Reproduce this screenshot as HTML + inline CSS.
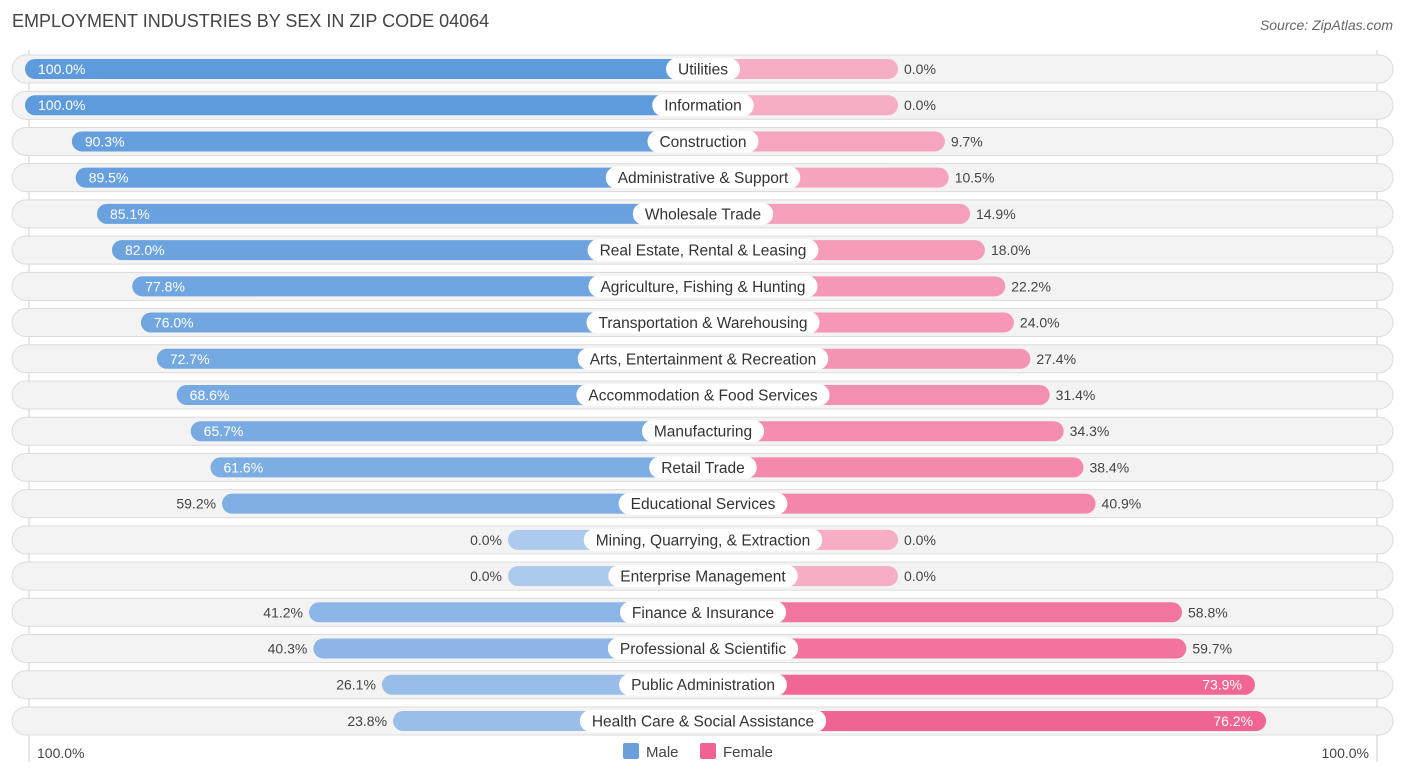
<!DOCTYPE html>
<html><head><meta charset="utf-8"><style>
body{margin:0;background:#fff;font-family:"Liberation Sans",Arial,sans-serif;}
svg{display:block}
</style></head><body>
<svg id="c" width="1406" height="776">
<text x="12" y="27" font-size="18" fill="#444">EMPLOYMENT INDUSTRIES BY SEX IN ZIP CODE 04064</text>
<text x="1393" y="30" font-size="14" fill="#666" font-style="italic" text-anchor="end">Source: ZipAtlas.com</text>
<line x1="29" y1="50" x2="29" y2="762" stroke="#ccc"/>
<line x1="1377" y1="50" x2="1377" y2="762" stroke="#ccc"/>
<g id="rows"></g>
<text x="37" y="758" font-size="14" fill="#444">100.0%</text>
<text x="1369" y="758" font-size="14" fill="#444" text-anchor="end">100.0%</text>
<rect x="623" y="743" width="16" height="16" rx="2" fill="#6a9fdc"/>
<text x="646" y="757" font-size="15" fill="#444">Male</text>
<rect x="700" y="743" width="16" height="16" rx="2" fill="#f06292"/>
<text x="723" y="757" font-size="15" fill="#444">Female</text>
</svg>
<script>
const categories=["Utilities","Information","Construction","Administrative & Support","Wholesale Trade","Real Estate, Rental & Leasing","Agriculture, Fishing & Hunting","Transportation & Warehousing","Arts, Entertainment & Recreation","Accommodation & Food Services","Manufacturing","Retail Trade","Educational Services","Mining, Quarrying, & Extraction","Enterprise Management","Finance & Insurance","Professional & Scientific","Public Administration","Health Care & Social Assistance"];
const maleValues=[100,100,90.3,89.5,85.1,82.0,77.8,76.0,72.7,68.6,65.7,61.6,59.2,0,0,41.2,40.3,26.1,23.8];
const femaleValues=[0,0,9.7,10.5,14.9,18.0,22.2,24.0,27.4,31.4,34.3,38.4,40.9,0,0,58.8,59.7,73.9,76.2];
const NS="http://www.w3.org/2000/svg";
const g=document.getElementById('rows');
const cx=703,base=195,scale=4.83,y0=69,step=36.22;
function mk(t,a){const e=document.createElementNS(NS,t);for(const k in a)e.setAttribute(k,a[k]);return e;}
function mix(a,b,t){return 'rgb('+a.map((v,i)=>Math.round(v+(b[i]-v)*t)).join(',')+')';}
const mLo=[172,201,238],mHi=[94,155,220],fLo=[247,174,197],fHi=[240,96,145];
function xM(v){return cx-base-v*scale;}
function xF(v){return cx+base+v*scale;}
categories.forEach((c,i)=>{
 const y=y0+i*step;
 const bg=mk('rect',{x:12,y:y-14,width:1381,height:28,rx:14,fill:'#f3f3f3',stroke:'#dcdcdc'});
 
 
 g.appendChild(bg);
 const m=maleValues[i],f=femaleValues[i];
 const mb=mk('rect',{x:xM(m),y:y-10,width:cx-xM(m),height:20,rx:10,fill:mix(mLo,mHi,Math.min(1,m/100))});
 
 
 g.appendChild(mb);
 const fb=mk('rect',{x:cx,y:y-10,width:xF(f)-cx,height:20,rx:10,fill:mix(fLo,fHi,Math.min(1,f/80))});
 
 
 g.appendChild(fb);
 const mIn=m>=60;
 const mt=mk('text',{x:mIn?xM(m)+13:xM(m)-6,y:y+5,'font-size':14,fill:mIn?'#fff':'#444','text-anchor':mIn?'start':'end'});
 mt.textContent=m.toFixed(1)+'%';
 
 
 g.appendChild(mt);
 const fIn=f>=60;
 const ft=mk('text',{x:fIn?xF(f)-13:xF(f)+6,y:y+5,'font-size':14,fill:fIn?'#fff':'#444','text-anchor':fIn?'end':'start'});
 ft.textContent=f.toFixed(1)+'%';
 
 
 g.appendChild(ft);
 const lt=mk('text',{x:cx,y:y+5.5,'font-size':15.5,fill:'#333','text-anchor':'middle'});
 lt.textContent=c;
 g.appendChild(lt);
 const w=lt.getComputedTextLength()+24;
 const lb=mk('rect',{x:cx-w/2,y:y-11,width:w,height:22,rx:11,fill:'#fff'});
 
 
 g.insertBefore(lb,lt);
 
 
});
</script>
</body></html>
